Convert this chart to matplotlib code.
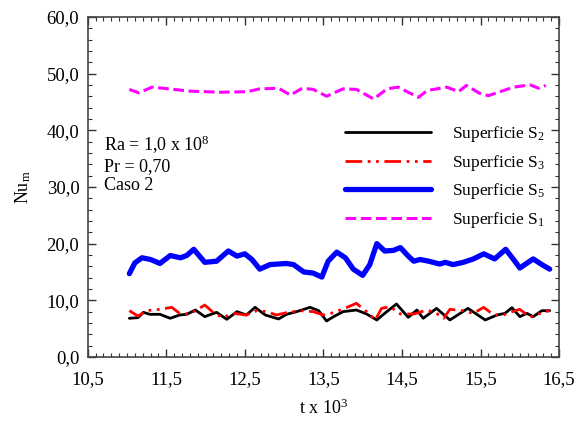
import matplotlib
matplotlib.use("Agg")
import matplotlib.pyplot as plt
from matplotlib.ticker import MultipleLocator, FuncFormatter

plt.rcParams['font.family'] = ['Liberation Serif', 'DejaVu Serif']
plt.rcParams['mathtext.fontset'] = 'custom'
plt.rcParams['mathtext.rm'] = 'Liberation Serif'
plt.rcParams['mathtext.it'] = 'Liberation Serif'

# Superficie S1 (magenta, dashed)
t_s1 = [11.03, 11.15, 11.32, 11.46, 11.80, 12.19, 12.53, 12.69, 12.93, 13.08, 13.23, 13.37,
        13.54, 13.75, 13.92, 14.14, 14.31, 14.45, 14.58, 14.71, 14.82, 15.07, 15.22, 15.32,
        15.49, 15.60, 15.75, 15.92, 16.13, 16.24, 16.33]
nu_s1 = [47.2, 46.6, 47.6, 47.4, 46.9, 46.7, 46.8, 47.3, 47.4, 46.2, 47.4, 47.2,
         46.0, 47.3, 47.2, 45.5, 47.3, 47.6, 46.7, 45.8, 47.0, 47.6, 46.8, 47.9,
         46.5, 46.1, 46.8, 47.6, 48.0, 47.4, 47.9]

# Superficie S5 (blue, thick)
t_s5 = [11.03, 11.10, 11.19, 11.30, 11.42, 11.55, 11.68, 11.76, 11.85, 11.99, 12.14, 12.29,
        12.40, 12.50, 12.59, 12.69, 12.82, 13.03, 13.12, 13.25, 13.37, 13.48, 13.56, 13.67,
        13.78, 13.88, 14.00, 14.09, 14.18, 14.28, 14.39, 14.48, 14.58, 14.65, 14.73, 14.84,
        14.98, 15.05, 15.15, 15.28, 15.41, 15.54, 15.68, 15.82, 15.92, 16.00, 16.17, 16.28, 16.38]
nu_s5 = [14.7, 16.6, 17.5, 17.2, 16.5, 17.9, 17.5, 17.9, 19.0, 16.7, 16.9, 18.7,
         17.8, 18.2, 17.2, 15.5, 16.3, 16.5, 16.3, 15.0, 14.8, 14.1, 16.9, 18.5,
         17.5, 15.5, 14.4, 16.3, 20.0, 18.7, 18.8, 19.3, 17.8, 16.9, 17.2, 16.9,
         16.4, 16.7, 16.3, 16.7, 17.3, 18.2, 17.3, 19.0, 17.2, 15.7, 17.3, 16.3, 15.5]

# Superficie S2 (black, solid)
t_s2 = [11.03, 11.14, 11.21, 11.29, 11.42, 11.55, 11.67, 11.76, 11.87, 11.99, 12.14, 12.27,
        12.40, 12.52, 12.63, 12.76, 12.93, 13.03, 13.16, 13.33, 13.44, 13.54, 13.63, 13.75,
        13.92, 14.05, 14.18, 14.28, 14.43, 14.58, 14.69, 14.77, 14.94, 15.11, 15.34, 15.56,
        15.71, 15.81, 15.90, 16.00, 16.09, 16.17, 16.28, 16.38]
nu_s2 = [6.83, 6.94, 7.88, 7.53, 7.53, 6.83, 7.41, 7.53, 8.29, 7.12, 7.88, 6.65,
         8.00, 7.41, 8.76, 7.41, 6.71, 7.53, 8.00, 8.76, 8.17, 6.35, 7.12, 8.00,
         8.29, 7.59, 6.53, 7.70, 9.35, 7.00, 8.29, 6.83, 8.58, 6.53, 8.58, 6.53,
         7.41, 7.70, 8.70, 7.12, 7.70, 7.12, 8.17, 8.17]

# Superficie S3 (red, dash-dot-dot)
t_s3 = [11.03, 11.14, 11.25, 11.42, 11.57, 11.67, 11.80, 11.90, 11.99, 12.10, 12.22, 12.35,
        12.52, 12.65, 12.78, 12.90, 13.03, 13.20, 13.37, 13.50, 13.63, 13.80, 13.92, 14.05,
        14.16, 14.24, 14.35, 14.48, 14.65, 14.82, 14.94, 15.03, 15.11, 15.28, 15.41, 15.54,
        15.67, 15.79, 15.90, 16.00, 16.13, 16.28, 16.38]
nu_s3 = [8.17, 7.23, 8.17, 8.41, 8.76, 7.70, 7.59, 8.41, 9.17, 7.82, 6.94, 7.70,
         7.41, 8.17, 8.00, 7.41, 7.82, 8.17, 8.00, 7.41, 7.82, 8.76, 9.47, 8.00,
         6.53, 8.58, 8.88, 7.59, 7.59, 8.29, 7.70, 6.83, 8.41, 8.17, 7.70, 8.76,
         7.41, 7.41, 8.00, 8.41, 7.00, 7.82, 8.17]

x_ticks = [10.5, 11.5, 12.5, 13.5, 14.5, 15.5, 16.5]
y_ticks = [0, 10, 20, 30, 40, 50, 60]

fig = plt.figure(figsize=(5.77, 4.21), dpi=100)
ax = fig.add_axes([0.152, 0.152, 0.817, 0.808])

kw = dict(solid_joinstyle='round', solid_capstyle='round', dash_joinstyle='round')
ax.plot(t_s2, nu_s2, color='black', lw=2.0, label='Superficie S$_2$', **kw)
ax.plot(t_s3, nu_s3, color='red', lw=2.0, linestyle=(0, (6, 2, 1, 2, 1, 2)), label='Superficie S$_3$', **kw)
ax.plot(t_s5, nu_s5, color='blue', lw=3.8, label='Superficie S$_5$', **kw)
ax.plot(t_s1, nu_s1, color='magenta', lw=2.2, linestyle=(0, (3.5, 1.5)), label='Superficie S$_1$', **kw)

ax.set_xlim(10.5, 16.5)
ax.set_ylim(0, 60)
ax.set_xticks(x_ticks)
ax.set_yticks(y_ticks)
ax.xaxis.set_minor_locator(MultipleLocator(0.1))
ax.yaxis.set_minor_locator(MultipleLocator(2))
ax.xaxis.set_major_formatter(FuncFormatter(lambda v, p: f"{v:.1f}".replace('.', ',')))
ax.yaxis.set_major_formatter(FuncFormatter(lambda v, p: f"{v:.1f}".replace('.', ',')))
ax.tick_params(which='both', direction='in', top=True, right=True, labelsize=13.5, color='#333333')
ax.tick_params(which='major', length=6, width=1)
ax.tick_params(which='minor', length=3, width=0.8)
ax.tick_params(axis='x', which='major', pad=10)
ax.tick_params(axis='y', which='major', pad=6)
for s in ax.spines.values():
    s.set_color('#444444')
    s.set_linewidth(1.2)

ax.set_xlabel('t x 10$^3$', fontsize=13, labelpad=8)
ax.set_ylabel('Nu$_\\mathrm{m}$', fontsize=13, labelpad=10)

ax.text(0.035, 0.655, 'Ra = 1,0 x 10$^8$\nPr = 0,70\nCaso 2', transform=ax.transAxes,
        fontsize=13, va='top', ha='left', linespacing=1.12)

ax.legend(loc='upper left', bbox_to_anchor=(0.545, 0.685), frameon=False, fontsize=12.5,
          handlelength=5.0, handletextpad=1.2, labelspacing=0.5, borderpad=0, borderaxespad=0)

fig.savefig('out.png', dpi=100)
